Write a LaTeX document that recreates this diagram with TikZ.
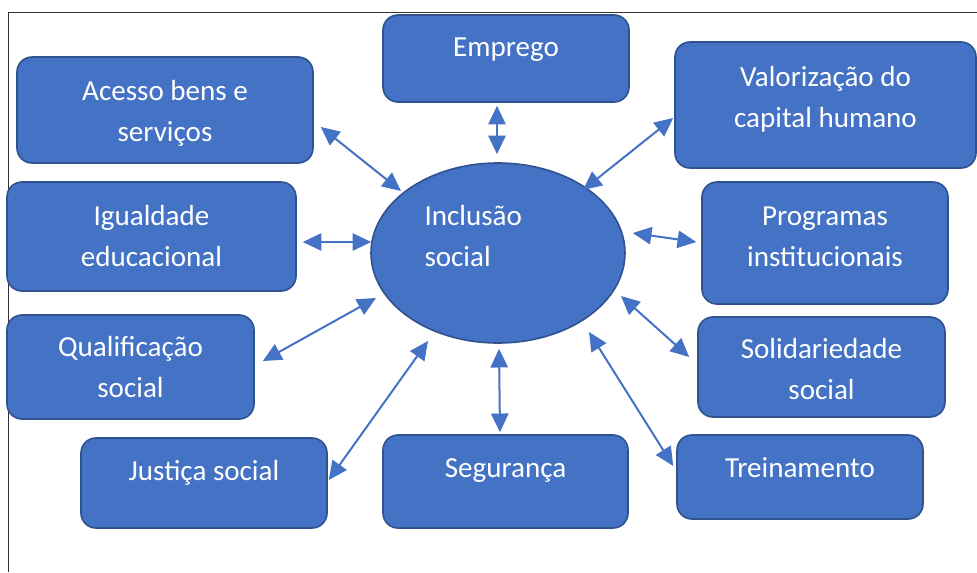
\documentclass[tikz,border=0pt]{standalone}
\usepackage{fontspec}
\setmainfont{Carlito}
\usetikzlibrary{calc,arrows.meta,shapes.geometric}

\definecolor{boxfill}{RGB}{68,114,196}
\definecolor{boxline}{RGB}{47,82,143}

\tikzset{every picture/.style={line width=0.75pt}}
\tikzset{
  bluebox/.style={draw=boxline, line width=1.2pt, fill=boxfill, rounded corners=11.25pt, inner sep=0pt},
  blueoval/.style={ellipse, draw=boxline, line width=1.2pt, fill=boxfill, inner sep=0pt},
  boxtext/.style={text=white, inner sep=0pt, align=center, font=\fontsize{21.8pt}{30.75pt}\selectfont},
  link/.style={draw=boxfill, line width=1.5pt, {Triangle[length=14pt,width=13pt]}-{Triangle[length=14pt,width=13pt]}},
}

\begin{document}
\begin{tikzpicture}[x=0.75pt,y=0.75pt,yscale=-1,xscale=1]
\useasboundingbox (0,0) rectangle (977,572);

%Frame
\draw [color={rgb, 255:red, 51; green, 51; blue, 51 }] (977,12) -- (8,12) -- (8,572);

%Shape: Ellipse [Inclusao]
\node [blueoval, minimum width=190.5pt, minimum height=135pt] (incl) at (498,253) {};

%Shape: Rounded Rect [boxes]
\node [bluebox, minimum width=184.5pt, minimum height=65.25pt] (emprego) at (506,58.5) {};
\node [bluebox, minimum width=222pt, minimum height=79.5pt] (acesso) at (165,110) {};
\node [bluebox, minimum width=225.75pt, minimum height=94.5pt] (valoriz) at (825.5,105) {};
\node [bluebox, minimum width=216.75pt, minimum height=81.75pt] (igual) at (151.5,236.5) {};
\node [bluebox, minimum width=184.5pt, minimum height=91.5pt] (prog) at (825,243) {};
\node [bluebox, minimum width=185.25pt, minimum height=78pt] (qualif) at (130.5,367) {};
\node [bluebox, minimum width=185.25pt, minimum height=75pt] (solid) at (821.5,367) {};
\node [bluebox, minimum width=184.5pt, minimum height=67.5pt] (justica) at (204,483) {};
\node [bluebox, minimum width=183.75pt, minimum height=69.75pt] (seguranca) at (505.5,481.5) {};
\node [bluebox, minimum width=184.5pt, minimum height=63pt] (trein) at (800,477) {};

% Text Node (base = last line)
\node [boxtext, anchor=base west, align=left] (incl-t) at ($(incl.north)+(-74,104)$) {Inclusão\\social};
\node [boxtext, anchor=base] (emprego-t) at ($(emprego.north)+(0,42)$) {Emprego};
\node [boxtext, anchor=base] (acesso-t) at ($(acesso.north)+(0,85)$) {Acesso bens e\\serviços};
\node [boxtext, anchor=base] (valoriz-t) at ($(valoriz.north)+(0,86)$) {Valorização do\\capital humano};
\node [boxtext, anchor=base] (igual-t) at ($(igual.north)+(0,85)$) {Igualdade\\educacional};
\node [boxtext, anchor=base] (prog-t) at ($(prog.north)+(0,85)$) {Programas\\institucionais};
\node [boxtext, anchor=base] (qualif-t) at ($(qualif.north)+(0,83)$) {Qualificação\\social};
\node [boxtext, anchor=base] (solid-t) at ($(solid.north)+(0,83)$) {Solidariedade\\social};
\node [boxtext, anchor=base] (justica-t) at ($(justica.north)+(0,43)$) {Justiça social};
\node [boxtext, anchor=base] (seguranca-t) at ($(seguranca.north)+(0,43)$) {Segurança};
\node [boxtext, anchor=base] (trein-t) at ($(trein.north)+(0,43)$) {Treinamento};

%Straight Lines [double arrows]
\draw [link] ($(emprego.south)+(-9,3)$) -- ($(incl.north)+(-1,-8)$);
\draw [link] ($(acesso.east)+(7,17)$) -- ($(incl.center)+(-97,-62)$);
\draw [link] ($(valoriz.west)+(-1,13)$) -- ($(incl.center)+(85,-63)$);
\draw [link] ($(igual.east)+(6,5.5)$) -- ($(incl.west)+(1,-11)$);
\draw [link] ($(qualif.east)+(8,-6)$) -- ($(incl.center)+(-122,45)$);
\draw [link] ($(prog.west)+(-5,-1)$) -- ($(incl.east)+(7,-20)$);
\draw [link] ($(solid.west)+(-8,-10)$) -- ($(incl.center)+(123,43)$);
\draw [link] ($(justica.east)+(1,-3)$) -- ($(incl.center)+(-70,88)$);
\draw [link] ($(seguranca.north)+(-5.5,-2)$) -- ($(incl.south)+(1,5)$);
\draw [link] ($(trein.west)+(-3,-11)$) -- ($(incl.center)+(91,79)$);

\end{tikzpicture}
\end{document}
